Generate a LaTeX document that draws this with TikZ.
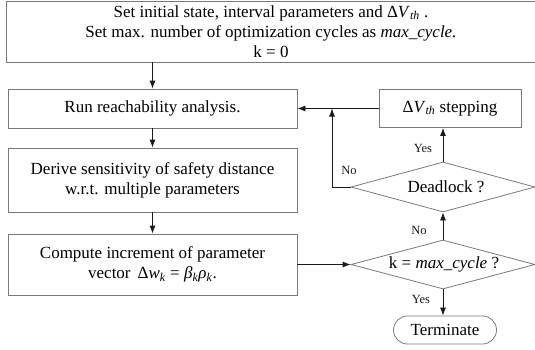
\documentclass[tikz,border=0pt]{standalone}
\usepackage{fontspec}
\setmainfont{Liberation Serif}
\usetikzlibrary{arrows.meta,shapes.geometric}
\definecolor{frame}{HTML}{7A7A7A}
\definecolor{ink}{HTML}{1A1A1A}
\newcommand{\isub}[2]{\textit{#1}\textsubscript{\textit{#2}}}
\newcommand{\dVth}{Δ\isub{V}{th}}

\begin{document}
\begin{tikzpicture}[x=1pt,y=-1pt,
  procbox/.style={draw=frame,line width=0.8pt,inner sep=0pt,align=center,
    font=\fontsize{17}{20}\selectfont},
  decbox/.style={draw=frame,line width=0.8pt,diamond,inner sep=0pt},
  dectext/.style={font=\fontsize{17}{20}\selectfont},
  lbl/.style={font=\fontsize{12.5}{14}\selectfont,text=ink},
  arr/.style={draw=ink,line width=0.8pt,-{Latex[length=8pt,width=6pt]}}]
  \useasboundingbox (0,0) rectangle (535,349);
  % left column
  \node[procbox,minimum width=530pt,minimum height=61pt] (init) at (271,31.5)
    {Set initial state, interval parameters and \dVth\ .\\
     Set max. number of optimization cycles as \textit{max\_cycle.}\\
     k = 0};
  \node[procbox,minimum width=289pt,minimum height=39pt] (run) at (152.5,108.5)
    {Run reachability analysis.};
  \node[procbox,minimum width=289pt,minimum height=64pt] (derive) at (152.5,180)
    {Derive sensitivity of safety distance\\ w.r.t. multiple parameters};
  \node[procbox,minimum width=289pt,minimum height=61pt] (compute) at (152.5,264.5)
    {Compute increment of parameter\\ vector \,Δ\isub{w}{k} = \isub{β}{k}\isub{ρ}{k}.};
  % right column
  \node[procbox,minimum width=142pt,minimum height=38pt] (stepping) at (450,108.5)
    {\dVth\ stepping};
  \node[decbox,minimum width=184pt,minimum height=50pt,
    label={[dectext,xshift=3pt]center:Deadlock ?}] (dead) at (443,187) {};
  \node[decbox,minimum width=184pt,minimum height=49pt,
    label={[dectext,xshift=1pt]center:k = \textit{max\_cycle} ?}] (kmax) at (443,264.5) {};
  \node[procbox,rounded corners=14pt,minimum width=103pt,minimum height=28pt] (term) at (445,330)
    {Terminate};
  \coordinate (join) at (332,108.5);
  % connectors
  \draw[arr] (run.north |- init.south) -- (run.north);
  \draw[arr] (run) -- (derive);
  \draw[arr] (derive) -- (compute);
  \draw[arr] (compute.east) -- (kmax.west);
  \draw[arr] (kmax.north) -- (dead.south);
  \draw[arr] (kmax.south) -- (kmax.south |- term.north);
  \draw[arr] (dead.north) -- (dead.north |- stepping.south);
  \draw[arr] (stepping.west) -- (run.east);
  \draw[arr] (dead.west) -| (join);
  % branch labels
  \node[lbl] (yesstep) at (423,148) {Yes};
  \node[lbl] (nodead) at (349,170) {No};
  \node[lbl] (nokmax) at (419,230) {No};
  \node[lbl] (yesterm) at (421,299) {Yes};
\end{tikzpicture}
\end{document}
